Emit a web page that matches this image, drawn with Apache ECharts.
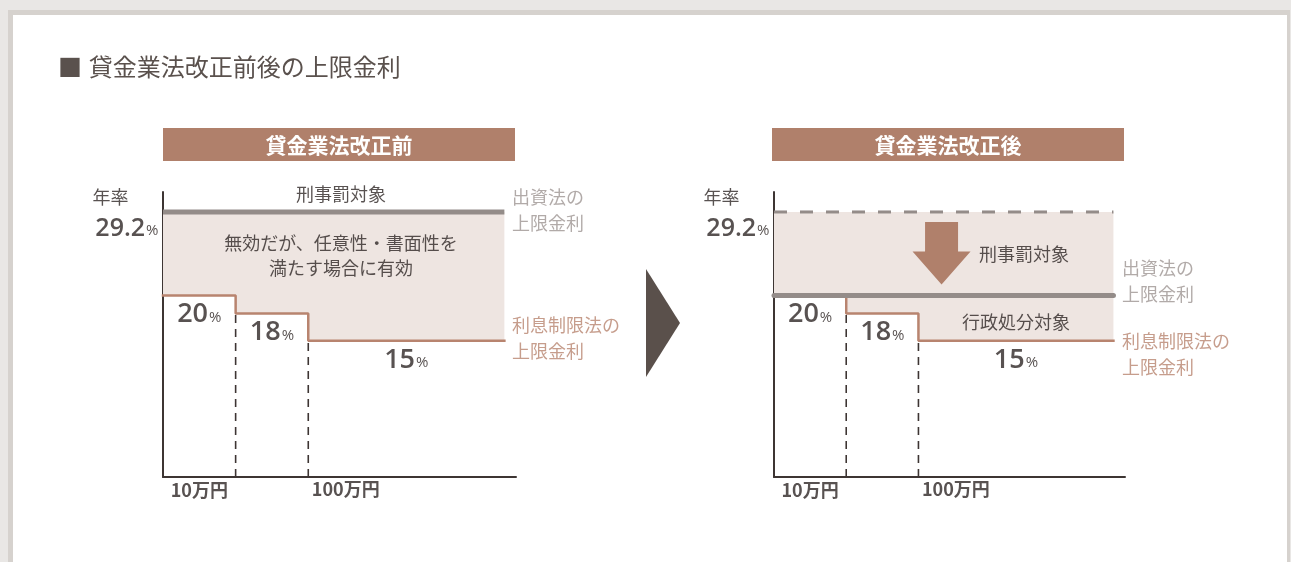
<!DOCTYPE html>
<html>
<head>
<meta charset="utf-8">
<script src="https://cdn.jsdelivr.net/npm/echarts@6/dist/echarts.min.js"></script>
<style>
  html, body { margin: 0; padding: 0; background: #e9e7e5; }
  #chart { width: 1291px; height: 562px; }
</style>
</head>
<body>
<div id="chart"></div>
<script>
// ---- data ----
const chartTitle = '貸金業法改正前後の上限金利';
const panelTitles = ['貸金業法改正前', '貸金業法改正後'];
const capRate = 29.2;                 // 出資法の上限金利 (%)
const bandBreaks = [0, 1, 2, 4.7];    // 0 / 10万円 / 100万円 / right end, in band units
const limitRates = [20, 18, 15];      // 利息制限法の上限金利 per band (%)
const amountLabels = ['10万円', '100万円'];
const rateUnit = '%';
const yLabelTop = '年率';
const capLabel = ['出資法の', '上限金利'];
const limitLabel = ['利息制限法の', '上限金利'];
const beforeNote = ['無効だが、任意性・書面性を', '満たす場合に有効'];
const criminalText = '刑事罰対象';
const adminText = '行政処分対象';
const arrowSpan = { x: 2.32, top: 28.1, tip: 21.2 };

// ---- style ----
const JP = "'Noto Sans CJK JP', 'Noto Sans', sans-serif";
const NUM = "'Open Sans', 'Noto Sans', sans-serif";
const C = {
  text: '#2e2725',
  title: '#5a514d',
  header: '#b0806b',
  fill: '#eee5e1',
  gray: '#948c89',
  grayText: '#9d9592',
  brown: '#b8846f',
  axis: '#3d3533',
  bigArrow: '#5a504b'
};
const X_MAX = 4.86, Y_MAX = 31.4;

// step polyline of the limit rates
const stepPoints = [];
limitRates.forEach((r, i) => {
  stepPoints.push([bandBreaks[i], r], [bandBreaks[i + 1], r]);
});
const xEnd = bandBreaks[bandBreaks.length - 1];

function pctRich(sizeN) {
  return {
    n: { fontFamily: NUM, fontSize: sizeN, fontWeight: 600, color: C.text, lineHeight: 30, verticalAlign: 'bottom' },
    p: { fontFamily: NUM, fontSize: 15, color: C.text, lineHeight: 30, verticalAlign: 'bottom', padding: [0, 0, 3, 1] }
  };
}

function panelSeries(p) {
  const ax = { xAxisIndex: p, yAxisIndex: p };
  const series = [];
  // shaded band between the cap and the limit-rate steps, with the step line
  series.push(Object.assign({
    type: 'line', data: stepPoints, symbol: 'none', z: 2,
    lineStyle: { color: C.brown, width: 2.5, cap: 'square' },
    areaStyle: { color: C.fill, opacity: 1, origin: capRate }
  }, ax));
  // cap line: solid before, dashed after the reform
  series.push(Object.assign({
    type: 'line', data: [[0, capRate], [xEnd, capRate]], symbol: 'none', z: 4,
    lineStyle: p === 0
      ? { color: C.gray, width: 5, cap: 'butt' }
      : { color: C.gray, width: 3, type: [13, 13] }
  }, ax));
  if (p === 1) {
    // new cap lowered to the 20% limit
    series.push(Object.assign({
      type: 'line', data: [[0, limitRates[0]], [xEnd, limitRates[0]]], symbol: 'none', z: 5,
      lineStyle: { color: C.gray, width: 5, cap: 'round' }
    }, ax));
  }
  // dashed band boundaries
  for (let i = 1; i < limitRates.length; i++) {
    series.push(Object.assign({
      type: 'line', data: [[bandBreaks[i], 0], [bandBreaks[i], limitRates[i]]], symbol: 'none', z: 3,
      lineStyle: { color: C.axis, width: 1.6, type: [8, 6] }
    }, ax));
  }
  // text labels anchored to data positions
  const labels = [];
  limitRates.forEach((r, i) => {
    labels.push({
      value: [(bandBreaks[i] + bandBreaks[i + 1]) / 2, r],
      label: {
        position: 'bottom', distance: 2,
        formatter: '{n|' + r + '}{p|' + rateUnit + '}', rich: pctRich(27)
      }
    });
  });
  labels.push({
    value: [0, capRate],
    label: { position: [-70, -14], align: 'left', verticalAlign: 'middle',
      formatter: yLabelTop, fontFamily: JP, fontSize: 18, color: C.text }
  });
  labels.push({
    value: [0, capRate],
    label: { position: [-4, 15], align: 'right', verticalAlign: 'middle',
      formatter: '{n|' + capRate + '}{p|' + rateUnit + '}', rich: pctRich(25) }
  });
  labels.push({
    value: [(bandBreaks[0] + bandBreaks[1]) / 2, 0],
    label: { position: 'bottom', distance: 3, formatter: amountLabels[0],
      fontFamily: JP, fontSize: 18, fontWeight: 'bold', color: C.text, lineHeight: 20 }
  });
  labels.push({
    value: [bandBreaks[2], 0],
    label: { position: [4, 3], align: 'left', verticalAlign: 'top', formatter: amountLabels[1],
      fontFamily: JP, fontSize: 18, fontWeight: 'bold', color: C.text, lineHeight: 20 }
  });
  const lim = limitRates[limitRates.length - 1];
  if (p === 0) {
    labels.push({
      value: [2.45, capRate],
      label: { position: 'top', distance: 7, formatter: criminalText,
        fontFamily: JP, fontSize: 18, color: C.text, lineHeight: 20 }
    });
    labels.push({
      value: [2.45, capRate],
      label: { position: 'bottom', distance: 18, formatter: beforeNote.join('\n'),
        fontFamily: JP, fontSize: 18, color: C.text, lineHeight: 25, align: 'center' }
    });
    labels.push({
      value: [xEnd, capRate],
      label: { position: [8, -1], align: 'left', verticalAlign: 'middle', formatter: capLabel.join('\n'),
        fontFamily: JP, fontSize: 18, color: C.grayText, lineHeight: 26 }
    });
    labels.push({
      value: [xEnd, lim],
      label: { position: [8, -2], align: 'left', verticalAlign: 'middle', formatter: limitLabel.join('\n'),
        fontFamily: JP, fontSize: 18, color: C.brown, lineHeight: 26 }
    });
  } else {
    labels.push({
      value: [(bandBreaks[2] + xEnd) / 2 + 0.11, (capRate + limitRates[0]) / 2],
      label: { position: 'inside', formatter: criminalText,
        fontFamily: JP, fontSize: 18, color: C.text, lineHeight: 20 }
    });
    labels.push({
      value: [(bandBreaks[2] + xEnd) / 2, lim],
      label: { position: 'top', distance: 8, formatter: adminText,
        fontFamily: JP, fontSize: 18, color: C.text, lineHeight: 20 }
    });
    labels.push({
      value: [xEnd, limitRates[0]],
      label: { position: [9, -14], align: 'left', verticalAlign: 'middle', formatter: capLabel.join('\n'),
        fontFamily: JP, fontSize: 18, color: C.grayText, lineHeight: 26 }
    });
    labels.push({
      value: [xEnd, lim],
      label: { position: [9, 14], align: 'left', verticalAlign: 'middle', formatter: limitLabel.join('\n'),
        fontFamily: JP, fontSize: 18, color: C.brown, lineHeight: 26 }
    });
    // downward arrow: cap lowered
    series.push(Object.assign({
      type: 'custom', z: 6,
      data: [[arrowSpan.x, arrowSpan.top, arrowSpan.tip]],
      renderItem(params, api) {
        const top = api.coord([api.value(0), api.value(1)]);
        const tip = api.coord([api.value(0), api.value(2)]);
        const sh = 16.5, hh = 29, hl = 33;
        const neck = tip[1] - hl;
        return {
          type: 'polygon',
          shape: { points: [
            [top[0] - sh, top[1]], [top[0] + sh, top[1]], [top[0] + sh, neck],
            [top[0] + hh, neck], [tip[0], tip[1]], [top[0] - hh, neck], [top[0] - sh, neck]
          ] },
          style: { fill: C.header }
        };
      }
    }, ax));
  }
  series.push(Object.assign({
    type: 'scatter', symbolSize: 1, z: 10, silent: true,
    itemStyle: { color: 'rgba(0,0,0,0)' },
    label: { show: true },
    data: labels
  }, ax));
  return series;
}

const axisLine = { show: true, lineStyle: { color: C.axis, width: 2 } };
function xAxis(i) {
  return { type: 'value', gridIndex: i, min: 0, max: X_MAX, axisLine: axisLine,
    axisTick: { show: false }, axisLabel: { show: false }, splitLine: { show: false } };
}
function yAxis(i) {
  return { type: 'value', gridIndex: i, min: 0, max: Y_MAX, axisLine: axisLine,
    axisTick: { show: false }, axisLabel: { show: false }, splitLine: { show: false } };
}

function headerBox(x, w, text) {
  return {
    type: 'group', children: [
      { type: 'rect', shape: { x: x, y: 128, width: w, height: 33 }, style: { fill: C.header } },
      { type: 'text', x: x + w / 2, y: 145, style: { text: text, fill: '#fff', font: 'bold 21px ' + JP,
        textAlign: 'center', textVerticalAlign: 'middle' } }
    ]
  };
}

const chart = echarts.init(document.getElementById('chart'), null, { renderer: 'canvas' });
chart.setOption({
  animation: false,
  backgroundColor: '#e9e7e5',
  grid: [
    { left: 163, top: 192, width: 353, height: 285, containLabel: false },
    { left: 774, top: 192, width: 351, height: 285, containLabel: false }
  ],
  xAxis: [xAxis(0), xAxis(1)],
  yAxis: [yAxis(0), yAxis(1)],
  graphic: [
    { type: 'rect', z: -10, shape: { x: 8, y: 10, width: 1282, height: 600 }, style: { fill: '#d6d2ce' } },
    { type: 'rect', z: -9, shape: { x: 13, y: 15, width: 1274, height: 600 }, style: { fill: '#ffffff' } },
    { type: 'text', x: 58, y: 67, style: {
      text: '{sq|■}  {t|' + chartTitle + '}',
      rich: { sq: { fontFamily: JP, fontSize: 24, fill: C.title }, t: { fontFamily: JP, fontSize: 24, fill: C.title } },
      textVerticalAlign: 'middle' } },
    headerBox(163, 352, panelTitles[0]),
    headerBox(772, 352, panelTitles[1]),
    { type: 'polygon', shape: { points: [[646, 269], [680, 323], [646, 377]] }, style: { fill: C.bigArrow } }
  ],
  series: panelSeries(0).concat(panelSeries(1))
});
</script>
</body>
</html>
